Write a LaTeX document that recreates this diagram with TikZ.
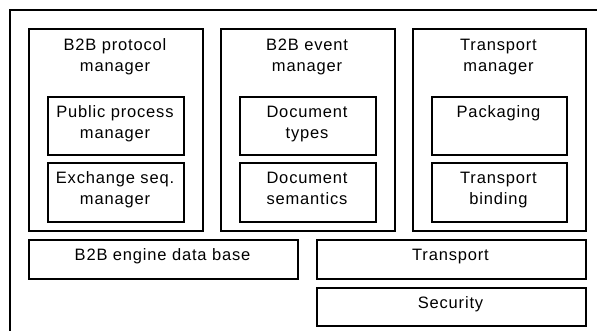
\documentclass[tikz,border=0pt]{standalone}
\usepackage{fontspec}
\newfontfamily\labfont[LetterSpace=5]{Liberation Sans}
\begin{document}
\begin{tikzpicture}[x=1pt,y=-1pt,
  box/.style={draw=black, line width=1.8pt, rectangle, inner sep=0pt, anchor=north west},
  lab/.style={font={\labfont\fontsize{16.5}{21}\selectfont}, align=center, inner sep=0pt, anchor=base, text=black}]
\useasboundingbox (0,0) rectangle (597,330);
\clip (0,0) rectangle (597,330);
\fill[white] (0,0) rectangle (597,330);
% outer frame
\node[box, line width=2.2pt, minimum width=600pt, minimum height=340pt] (frame) at (9,9) {};
% managers
\node[box, minimum width=174pt, minimum height=202pt] (pm) at (28,28) {};
\node[box, minimum width=174pt, minimum height=202pt] (em) at (220,28) {};
\node[box, minimum width=173pt, minimum height=202pt] (tm) at (412,28) {};
\node[lab] (pmt) at (115,71.5) {B2B protocol\\manager};
\node[lab] (emt) at (307,71.5) {B2B event\\manager};
\node[lab] (tmt) at (498.5,71.5) {Transport\\manager};
% inner boxes
\node[box, minimum width=136pt, minimum height=58pt] (pp) at (47,96) {};
\node[box, minimum width=136pt, minimum height=59pt] (es) at (47,162) {};
\node[box, minimum width=136pt, minimum height=58pt] (dt) at (239,96) {};
\node[box, minimum width=136pt, minimum height=59pt] (ds) at (239,162) {};
\node[box, minimum width=135pt, minimum height=58pt] (pk) at (431,96) {};
\node[box, minimum width=135pt, minimum height=59pt] (tb) at (431,162) {};
\node[lab] (ppt) at (115,138) {Public process\\manager};
\node[lab] (est) at (115,204) {Exchange seq.\\manager};
\node[lab] (dtt) at (307,138) {Document\\types};
\node[lab] (dst) at (307,204) {Document\\semantics};
\node[lab] (pkt) at (498.5,117) {Packaging};
\node[lab] (tbt) at (498.5,204) {Transport\\binding};
% bottom boxes
\node[box, minimum width=269pt, minimum height=39pt] (db) at (28,239) {};
\node[box, minimum width=269pt, minimum height=39pt] (tr) at (316,239) {};
\node[box, minimum width=269pt, minimum height=38pt] (se) at (316,287) {};
\node[lab] (dbt) at (162.5,260) {B2B engine data base};
\node[lab] (trt) at (450.5,260) {Transport};
\node[lab] (set) at (450.5,308) {Security};
\end{tikzpicture}
\end{document}
